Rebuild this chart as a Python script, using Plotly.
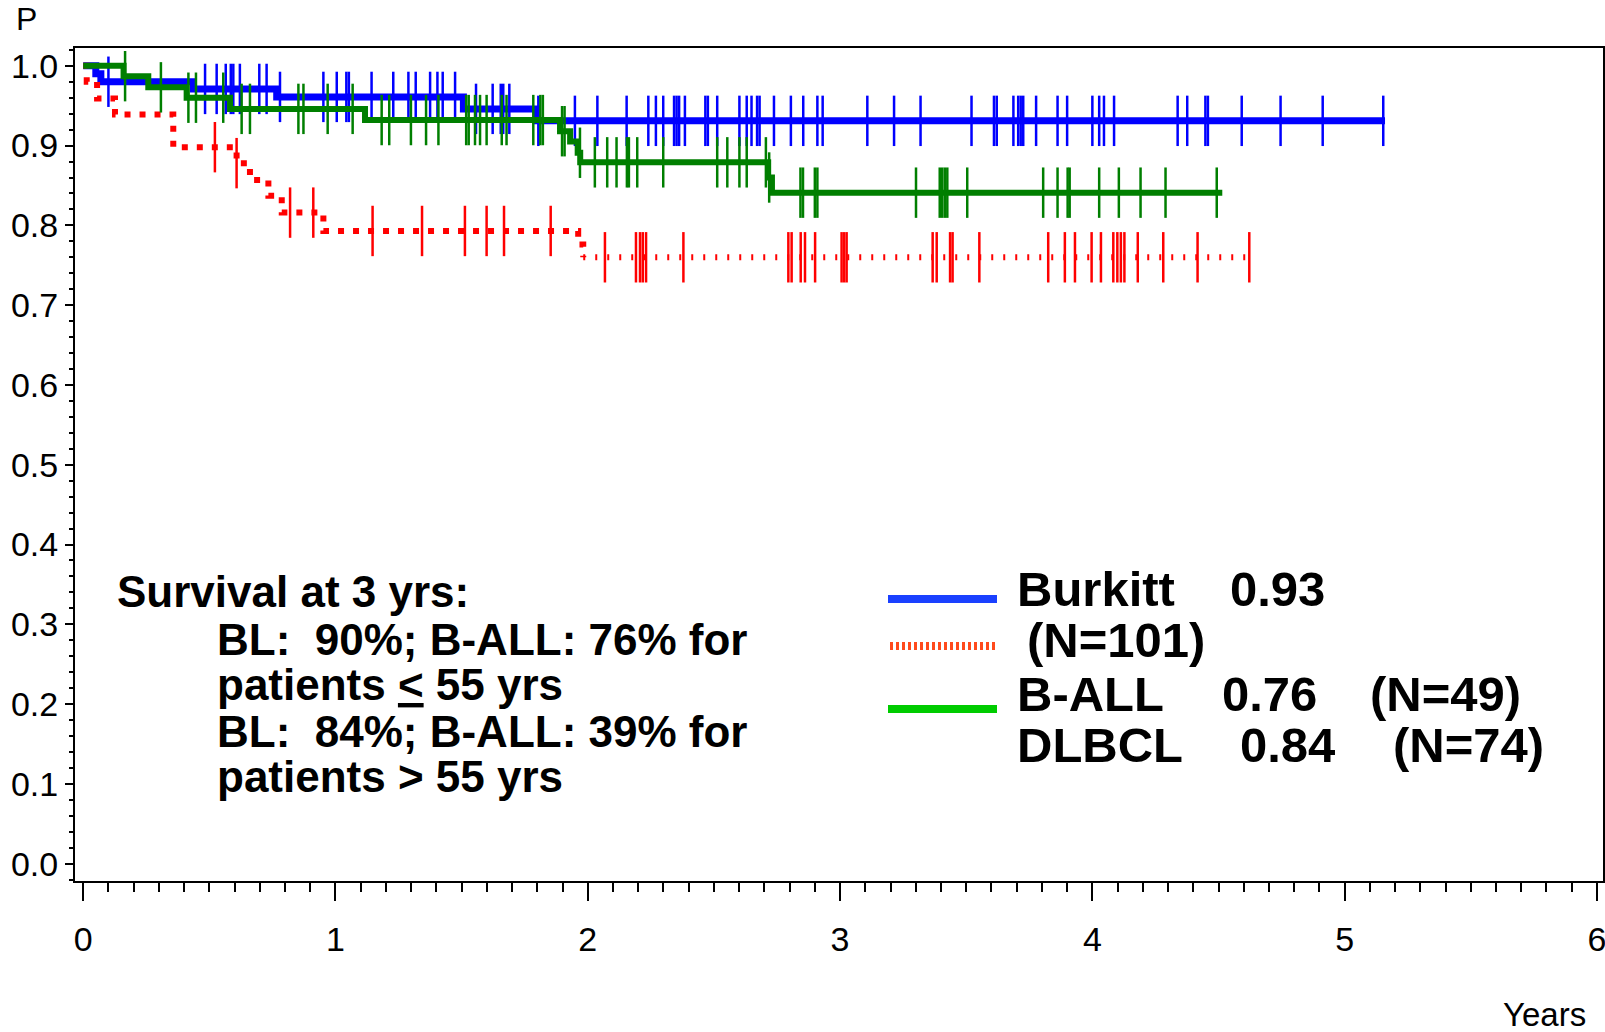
import numpy as np
import plotly.graph_objects as go

# ---------------- data ----------------
# Burkitt (blue): Kaplan-Meier step events, end of follow-up, censor times
burkitt_event_t = [0.0, 0.05, 0.07, 0.437, 0.767, 1.507, 1.797]
burkitt_surv = [1.0, 0.990, 0.980, 0.971, 0.961, 0.946, 0.931]
burkitt_end = 5.16
burkitt_cens = [0.10, 0.483, 0.529, 0.565, 0.585, 0.595, 0.621, 0.698, 0.727, 0.78,
                0.952, 1.005, 1.043, 1.053, 1.143, 1.229, 1.289, 1.318, 1.375, 1.404,
                1.425, 1.474, 1.557, 1.623, 1.655, 1.665, 1.689, 1.804, 1.949, 2.038,
                2.154, 2.240, 2.270, 2.299, 2.342, 2.352, 2.362, 2.385, 2.466, 2.476,
                2.513, 2.601, 2.630, 2.649, 2.671, 2.681, 2.738, 2.805, 2.854, 2.910,
                2.931, 3.108, 3.214, 3.319, 3.521, 3.610, 3.621, 3.687, 3.706, 3.716,
                3.726, 3.777, 3.862, 3.900, 4.000, 4.027, 4.046, 4.086, 4.338, 4.376,
                4.448, 4.458, 4.592, 4.746, 4.913, 5.153]

# B-ALL (red, dotted)
ball_event_t = [0.0, 0.014, 0.055, 0.126, 0.357, 0.608, 0.661, 0.734, 0.787, 0.952, 1.962, 1.982]
ball_surv = [1.0, 0.980, 0.959, 0.939, 0.898, 0.878, 0.857, 0.837, 0.816, 0.793, 0.776, 0.760]
ball_end = 4.63
ball_cens = [0.522, 0.608, 0.820, 0.912, 1.147, 1.343, 1.513, 1.599, 1.668, 1.853,
             2.068, 2.191, 2.207, 2.218, 2.231, 2.379, 2.795, 2.808, 2.844, 2.861,
             2.901, 3.006, 3.016, 3.026, 3.367, 3.383, 3.436, 3.446, 3.552, 3.825,
             3.891, 3.931, 3.997, 4.034, 4.083, 4.099, 4.113, 4.127, 4.180, 4.281,
             4.417, 4.622]

# DLBCL (green)
dlbcl_event_t = [0.0, 0.16, 0.258, 0.41, 0.582, 1.117, 1.89, 1.93, 1.96, 1.97, 2.715, 2.73]
dlbcl_surv = [1.0, 0.987, 0.973, 0.960, 0.946, 0.932, 0.918, 0.905, 0.891, 0.879, 0.860, 0.841]
dlbcl_end = 4.515
dlbcl_cens = [0.166, 0.308, 0.417, 0.447, 0.555, 0.628, 0.661, 0.853, 0.873, 0.969,
              1.068, 1.183, 1.213, 1.299, 1.359, 1.408, 1.518, 1.528, 1.553, 1.573,
              1.599, 1.659, 1.678, 1.784, 1.812, 1.822, 1.898, 1.908, 1.969, 2.028,
              2.077, 2.114, 2.155, 2.163, 2.196, 2.299, 2.513, 2.553, 2.601, 2.630,
              2.706, 2.719, 2.843, 2.853, 2.900, 2.910, 3.301, 3.395, 3.405, 3.415,
              3.425, 3.504, 3.805, 3.862, 3.902, 3.910, 4.027, 4.105, 4.191, 4.290,
              4.493]

x_ticks = [0, 1, 2, 3, 4, 5, 6]
y_ticks = [0.0, 0.1, 0.2, 0.3, 0.4, 0.5, 0.6, 0.7, 0.8, 0.9, 1.0]

summary_lines = ["Survival at 3 yrs:",
                 "BL:&nbsp;&nbsp;90%; B-ALL: 76% for",
                 "patients <u>&lt;</u> 55 yrs",
                 "BL:&nbsp;&nbsp;84%; B-ALL: 39% for",
                 "patients &gt; 55 yrs"]

legend_rows = [["Burkitt", "0.93", ""],
               ["(N=101)", "", ""],
               ["B-ALL", "0.76", "(N=49)"],
               ["DLBCL", "0.84", "(N=74)"]]

# ---------------- helpers ----------------
def step_at(times, ev_t, ev_s):
    idx = np.searchsorted(np.array(ev_t), np.array(times), side="right") - 1
    return np.array(ev_s)[idx]

W, H = 1605, 1032
L, R, T, B = 75, 1603, 48, 881  # plot area in pixels


def px(xp):
    return (xp - L) / (R - L)


def py(yp):
    return (B - yp) / (B - T)


BLUE, RED, GREEN = "#0000ff", "#ff0000", "#007f00"
TXT = "Liberation Sans, Arial, sans-serif"

fig = go.Figure()

# Burkitt
fig.add_trace(go.Scatter(x=burkitt_event_t + [burkitt_end], y=burkitt_surv + [burkitt_surv[-1]],
                         mode="lines", line=dict(color=BLUE, width=7, shape="hv"), hoverinfo="skip"))
fig.add_trace(go.Scatter(x=burkitt_cens, y=step_at(burkitt_cens, burkitt_event_t, burkitt_surv),
                         mode="markers", marker=dict(symbol="line-ns", size=36,
                                                     line=dict(color=BLUE, width=2.5)), hoverinfo="skip"))

# B-ALL: thick dotted part up to last event, finer dotted part afterwards
fig.add_trace(go.Scatter(x=ball_event_t, y=ball_surv, mode="lines",
                         line=dict(color=RED, width=6, shape="hv", dash="6px,9px"), hoverinfo="skip"))
fig.add_trace(go.Scatter(x=[ball_event_t[-1], ball_end], y=[ball_surv[-1], ball_surv[-1]], mode="lines",
                         line=dict(color=RED, width=6, shape="hv", dash="2px,10px"), hoverinfo="skip"))
fig.add_trace(go.Scatter(x=ball_cens, y=step_at(ball_cens, ball_event_t, ball_surv),
                         mode="markers", marker=dict(symbol="line-ns", size=36,
                                                     line=dict(color=RED, width=2.5)), hoverinfo="skip"))

# DLBCL
fig.add_trace(go.Scatter(x=dlbcl_event_t + [dlbcl_end], y=dlbcl_surv + [dlbcl_surv[-1]],
                         mode="lines", line=dict(color=GREEN, width=6, shape="hv"), hoverinfo="skip"))
fig.add_trace(go.Scatter(x=dlbcl_cens, y=step_at(dlbcl_cens, dlbcl_event_t, dlbcl_surv),
                         mode="markers", marker=dict(symbol="line-ns", size=36,
                                                     line=dict(color=GREEN, width=2.5)), hoverinfo="skip"))

fig.update_layout(
    width=W, height=H, margin=dict(l=L, r=W - R, t=T, b=H - B),
    plot_bgcolor="white", paper_bgcolor="white", showlegend=False,
    xaxis=dict(range=[-0.0325, 6.024], tickvals=x_ticks, ticks="outside", ticklen=18, tickwidth=2,
               tickcolor="black", showline=True, linewidth=2, linecolor="black", mirror=True,
               showgrid=False, zeroline=False, ticklabelstandoff=9, automargin=False,
               ticklabeloverflow="allow",
               tickfont=dict(family=TXT, size=34, color="black"),
               minor=dict(dtick=0.1, ticklen=9, tickwidth=2, tickcolor="black", ticks="outside", showgrid=False)),
    yaxis=dict(range=[-0.0217, 1.0223], tickvals=y_ticks, tickformat=".1f", ticks="outside", ticklen=8,
               tickwidth=2, tickcolor="black", showline=True, linewidth=2, linecolor="black", mirror=True,
               showgrid=False, zeroline=False, automargin=False,
               tickfont=dict(family=TXT, size=34, color="black"),
               minor=dict(dtick=0.02, ticklen=4, tickwidth=2, tickcolor="black", ticks="outside", showgrid=False)),
)

ann = []
# axis titles
ann.append(dict(text="P", x=px(26), y=py(19), xref="paper", yref="paper", showarrow=False,
                font=dict(family=TXT, size=32, color="black"), xanchor="center", yanchor="middle"))
ann.append(dict(text="Years", x=px(1544), y=py(1015), xref="paper", yref="paper", showarrow=False,
                font=dict(family=TXT, size=33, color="black"), xanchor="center", yanchor="middle"))

# summary text block
sx = [115, 215, 215, 215, 215]
sy = [591, 639, 684, 731, 776]
for t, xx, yy in zip(summary_lines, sx, sy):
    ann.append(dict(text="<b>" + t + "</b>", x=px(xx), y=py(yy), xref="paper", yref="paper",
                    showarrow=False, font=dict(family=TXT, size=44, color="black"),
                    xanchor="left", yanchor="middle"))

# legend text
lx = [[1015, 1228, None], [1025, None, None], [1015, 1220, 1368], [1015, 1238, 1391]]
ly = [589, 640, 694, 745]
for row, xs, yy in zip(legend_rows, lx, ly):
    for t, xx in zip(row, xs):
        if t and xx is not None:
            ann.append(dict(text="<b>" + t + "</b>", x=px(xx), y=py(yy), xref="paper", yref="paper",
                            showarrow=False, font=dict(family=TXT, size=49, color="black"),
                            xanchor="left", yanchor="middle"))
fig.update_layout(annotations=ann)

# legend line samples
shapes = [
    dict(type="line", xref="paper", yref="paper", x0=px(888), x1=px(997), y0=py(599), y1=py(599),
         line=dict(color="#1a40ff", width=8)),
    dict(type="line", xref="paper", yref="paper", x0=px(890), x1=px(997), y0=py(646), y1=py(646),
         line=dict(color="#ff4a1c", width=8, dash="3px,3px")),
    dict(type="line", xref="paper", yref="paper", x0=px(888), x1=px(997), y0=py(709), y1=py(709),
         line=dict(color="#00cc00", width=8)),
]
fig.update_layout(shapes=shapes)

# page body has a default 8px margin; remove it so the figure fills the window exactly
fig.write_html("out.html", config={"displayModeBar": False},
               post_script="document.body.style.margin='0px';")
